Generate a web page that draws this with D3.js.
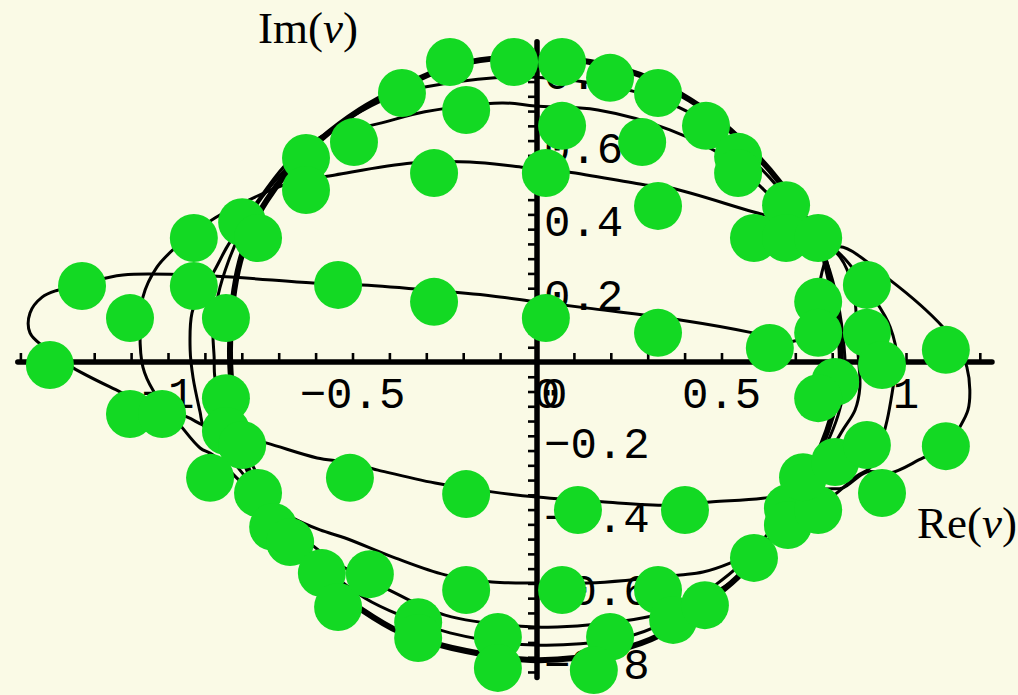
<!DOCTYPE html>
<html>
<head>
<meta charset="utf-8">
<script src="https://cdn.jsdelivr.net/npm/d3@7"></script>
<style>
  html, body { margin: 0; padding: 0; background: #fafae6; }
  svg { display: block; }
</style>
</head>
<body>
<svg id="chart" width="1018" height="695"></svg>
<script>
// ---- data (Re(v), Im(v)) ----
const curveA = [
  [-1.374,0.079],[-1.374,0.133],[-1.341,0.176],[-1.298,0.195],[-1.233,0.211],[-1.122,0.236],
  [-0.878,0.233],[-0.607,0.214],[-0.474,0.209],[-0.290,0.195],[-0.122,0.179],[0,0.163],
  [0.138,0.146],[0.388,0.114],[0.585,0.079],[0.686,0.054],[0.745,0.092],[0.762,0.195],
  [0.789,0.290],[0.821,0.312],[0.957,0.222],[1.100,0.095],[1.146,0.033],[1.165,-0.014],
  [1.173,-0.076],[1.168,-0.130],[1.146,-0.176],[1.111,-0.230],[1.046,-0.260],[0.957,-0.301],
  [0.894,-0.298],[0.829,-0.341],[0.786,-0.344],[0.612,-0.369],[0.477,-0.379],[0.360,-0.388],
  [0.176,-0.379],[0,-0.366],[-0.122,-0.352],[-0.276,-0.328],[-0.431,-0.293],[-0.520,-0.271],
  [-0.596,-0.260],[-0.732,-0.220],[-0.846,-0.190],[-0.905,-0.171],[-0.949,-0.149],[-1.068,-0.111],
  [-1.130,-0.081],[-1.257,-0.016],[-1.333,0.038]
];
const curveB = [
  [-1.076,0.079],[-1.068,0.176],[-1.030,0.257],[-0.981,0.309],[-0.873,0.390],[-0.764,0.447],
  [-0.669,0.485],[-0.547,0.507],[-0.339,0.539],[-0.182,0.542],[-0.041,0.528],[0.084,0.515],
  [0.293,0.480],[0.360,0.472],[0.585,0.407],[0.686,0.379],[0.767,0.336],[0.829,0.285],
  [0.911,0.176],[0.957,0.095],[0.976,0.005],[0.965,-0.068],[0.949,-0.157],[0.930,-0.225],
  [0.902,-0.287],[0.867,-0.309],[0.794,-0.369],[0.686,-0.428],[0.604,-0.504],[0.523,-0.545],
  [0.450,-0.569],[0.388,-0.577],[0.138,-0.599],[-0.003,-0.599],[-0.122,-0.596],[-0.249,-0.577],
  [-0.385,-0.531],[-0.520,-0.477],[-0.588,-0.455],[-0.661,-0.423],[-0.778,-0.347],[-0.878,-0.252],
  [-0.913,-0.233],[-0.967,-0.171],[-1.041,-0.076],[-1.068,-0.014]
];
const curveC = [
  [-0.940,0.033],[-0.935,0.133],[-0.913,0.187],[-0.878,0.241],[-0.840,0.312],[-0.805,0.366],
  [-0.745,0.453],[-0.669,0.547],[-0.547,0.629],[-0.447,0.642],[-0.304,0.678],[-0.095,0.702],
  [-0.005,0.694],[0.165,0.683],[0.360,0.629],[0.523,0.547],[0.659,0.425],[0.767,0.331],
  [0.821,0.285],[0.856,0.203],[0.867,0.095],[0.870,0.024],[0.875,-0.068],[0.862,-0.130],
  [0.829,-0.184],[0.780,-0.266],[0.713,-0.374],[0.631,-0.482],[0.542,-0.585],[0.450,-0.640],
  [0.355,-0.678],[0.138,-0.713],[-0.005,-0.718],[-0.249,-0.686],[-0.412,-0.612],[-0.534,-0.550],
  [-0.642,-0.469],[-0.737,-0.374],[-0.805,-0.293],[-0.859,-0.225],[-0.905,-0.171],[-0.913,-0.136],
  [-0.932,-0.043]
];
const curveD = [
  [-0.878,0.087],[-0.864,0.182],[-0.837,0.271],[-0.797,0.363],[-0.745,0.447],[-0.678,0.526],
  [-0.588,0.607],[-0.480,0.678],[-0.371,0.729],[-0.304,0.745],[-0.114,0.770],[-0.005,0.772],
  [0.130,0.759],[0.279,0.729],[0.415,0.675],[0.523,0.602],[0.631,0.499],[0.713,0.398],
  [0.772,0.304],[0.808,0.195],[0.829,0.073],[0.835,-0.049],[0.816,-0.144],[0.780,-0.233],
  [0.726,-0.333],[0.645,-0.442],[0.550,-0.550],[0.455,-0.626],[0.347,-0.705],[0.230,-0.748],
  [-0.005,-0.767],[-0.236,-0.734],[-0.371,-0.686],[-0.466,-0.640],[-0.561,-0.569],[-0.642,-0.482],
  [-0.710,-0.388],[-0.764,-0.293],[-0.818,-0.198],[-0.854,-0.117],[-0.873,-0.041],[-0.875,0.014]
];
const curveE = [
  [-0.832,0.033],[-0.824,0.168],[-0.805,0.271],[-0.770,0.371],[-0.732,0.439],[-0.678,0.512],
  [-0.588,0.602],[-0.480,0.683],[-0.371,0.743],[-0.263,0.791],[-0.154,0.818],[0,0.827],
  [0.144,0.813],[0.279,0.778],[0.415,0.710],[0.523,0.629],[0.631,0.520],[0.713,0.412],
  [0.767,0.317],[0.799,0.195],[0.821,0.060],[0.821,-0.049],[0.802,-0.138],[0.767,-0.238],
  [0.713,-0.347],[0.631,-0.482],[0.542,-0.585],[0.450,-0.659],[0.333,-0.740],[0.220,-0.780],
  [0,-0.808],[-0.230,-0.775],[-0.371,-0.732],[-0.474,-0.672],[-0.588,-0.585],[-0.669,-0.496],
  [-0.743,-0.374],[-0.791,-0.271],[-0.818,-0.157],[-0.829,-0.049]
];
const markers = [
  [-0.236,0.813],[-0.062,0.813],[0.068,0.813],[0.198,0.770],[0.328,0.729],[-0.366,0.729],
  [-0.192,0.683],[0.068,0.640],[0.285,0.596],[-0.496,0.596],[-0.279,0.512],[0.024,0.512],
  [0.328,0.423],[-0.539,0.209],[-0.279,0.163],[0.024,0.119],[0.328,0.079],[0.458,0.640],
  [0.545,0.556],[0.545,0.512],[0.675,0.425],[0.588,0.336],[0.675,0.336],[0.762,0.336],
  [0.894,0.209],[0.762,0.163],[0.762,0.079],[0.894,0.079],[0.631,0.038],[1.108,0.033],
  [-0.626,0.553],[-0.626,0.466],[-0.799,0.379],[-0.756,0.336],[-0.930,0.336],[-0.930,0.206],
  [-1.233,0.206],[-1.103,0.119],[-0.843,0.119],[-1.320,-0.008],[-1.103,-0.141],[-1.016,-0.141],
  [-0.843,-0.098],[-0.843,-0.187],[-0.799,-0.225],[-0.886,-0.314],[-0.756,-0.355],[-0.715,-0.447],
  [-0.669,-0.488],[-0.583,-0.572],[-0.539,-0.664],[-0.507,-0.314],[-0.192,-0.358],[0.111,-0.401],
  [0.401,-0.401],[-0.453,-0.575],[-0.192,-0.618],[0.068,-0.618],[0.328,-0.618],[-0.322,-0.705],
  [-0.322,-0.748],[-0.106,-0.745],[-0.106,-0.829],[0.198,-0.745],[0.154,-0.835],[0.369,-0.699],
  [0.455,-0.659],[0.588,-0.531],[0.680,-0.396],[0.680,-0.442],[0.762,-0.401],[0.721,-0.312],
  [0.808,-0.271],[0.894,-0.225],[1.108,-0.228],[0.935,-0.355],[0.935,-0.008],[0.808,-0.054],
  [0.762,-0.098]
];
const xTickLabels = [-1, -0.5, 0, 0.5, 1];
const yTickLabels = [-0.8, -0.6, -0.4, -0.2, 0, 0.2, 0.4, 0.6, 0.8];
const xExtent = [-1.407, 1.233];
const yExtent = [-0.855, 0.868];

// ---- scales (equal aspect) ----
const x = d3.scaleLinear().domain([0, 1]).range([537, 906]);
const y = d3.scaleLinear().domain([0, 1]).range([362, -7]);

const svg = d3.select("#chart");
svg.append("rect").attr("width", 1018).attr("height", 695).attr("fill", "#fafae6");

// ---- axes ----
const axes = svg.append("g");
const xMinor = d3.range(-14, 13).map(i => i / 10);
const yMinor = d3.range(-21, 22).map(i => i * 0.04);

axes.append("g")
  .attr("transform", `translate(0,${y(0)})`)
  .call(d3.axisTop(x).tickValues(xMinor).tickSize(9).tickSizeOuter(0).tickFormat(""))
  .call(g => g.select(".domain").remove())
  .call(g => g.selectAll(".tick line").attr("stroke", "#000").attr("stroke-width", 2.6));

axes.append("g")
  .attr("transform", `translate(${x(0)},0)`)
  .call(d3.axisLeft(y).tickValues(yMinor).tickSize(9).tickSizeOuter(0).tickFormat(""))
  .call(g => g.select(".domain").remove())
  .call(g => g.selectAll(".tick line").attr("stroke", "#000").attr("stroke-width", 2.6));

axes.append("line")
  .attr("x1", x(xExtent[0])).attr("x2", x(xExtent[1]))
  .attr("y1", y(0)).attr("y2", y(0))
  .attr("stroke", "#000").attr("stroke-width", 5.5).attr("stroke-linecap", "round");
axes.append("line")
  .attr("x1", x(0)).attr("x2", x(0))
  .attr("y1", y(yExtent[1])).attr("y2", y(yExtent[0]))
  .attr("stroke", "#000").attr("stroke-width", 5.5).attr("stroke-linecap", "round");

const fmt = v => (v < 0 ? "\u2212" : "") + Math.abs(v);
const tickFont = "'Liberation Mono', 'DejaVu Sans Mono', monospace";

// x labels centred under their ticks; the origin label sits just right of the y axis
axes.selectAll("text.xl").data(xTickLabels).join("text")
  .attr("class", "xl")
  .attr("x", d => x(d) + (d === 0 ? 10 : 0))
  .attr("y", y(0) + 46)
  .attr("text-anchor", "middle")
  .attr("font-family", tickFont).attr("font-size", 44).attr("fill", "#000")
  .text(fmt);

// y labels to the right of the axis, just below each tick
axes.selectAll("text.yl").data(yTickLabels).join("text")
  .attr("class", "yl")
  .attr("x", x(0) + 7)
  .attr("y", d => d === 0 ? y(0) + 46 : y(d) + 22)
  .attr("dx", d => d === 0 ? -3 : 0)
  .attr("text-anchor", "start")
  .attr("font-family", tickFont).attr("font-size", 44).attr("fill", "#000")
  .text(fmt);

// axis titles
const serif = "'Liberation Serif', 'Times New Roman', serif";
const imT = svg.append("text").attr("x", 258).attr("y", 43)
  .attr("font-family", serif).attr("font-size", 45).attr("fill", "#000");
imT.append("tspan").text("Im(");
imT.append("tspan").attr("font-style", "italic").text("v");
imT.append("tspan").text(")");

const reT = svg.append("text").attr("x", 917).attr("y", 538)
  .attr("font-family", serif).attr("font-size", 45).attr("fill", "#000");
reT.append("tspan").text("Re(");
reT.append("tspan").attr("font-style", "italic").text("v");
reT.append("tspan").text(")");

// ---- curves ----
const line = d3.line()
  .x(d => x(d[0])).y(d => y(d[1]))
  .curve(d3.curveCatmullRomClosed.alpha(0.5));

const curves = [
  { pts: curveE, w: 6 },
  { pts: curveD, w: 3 },
  { pts: curveC, w: 3 },
  { pts: curveB, w: 3 },
  { pts: curveA, w: 3 }
];
svg.append("g").selectAll("path").data(curves).join("path")
  .attr("d", d => line(d.pts))
  .attr("fill", "none")
  .attr("stroke", "#000")
  .attr("stroke-width", d => d.w)
  .attr("stroke-linejoin", "round");

// ---- markers ----
svg.append("g").selectAll("circle").data(markers).join("circle")
  .attr("cx", d => x(d[0]))
  .attr("cy", d => y(d[1]))
  .attr("r", 24)
  .attr("fill", "#13d923");
</script>
</body>
</html>
